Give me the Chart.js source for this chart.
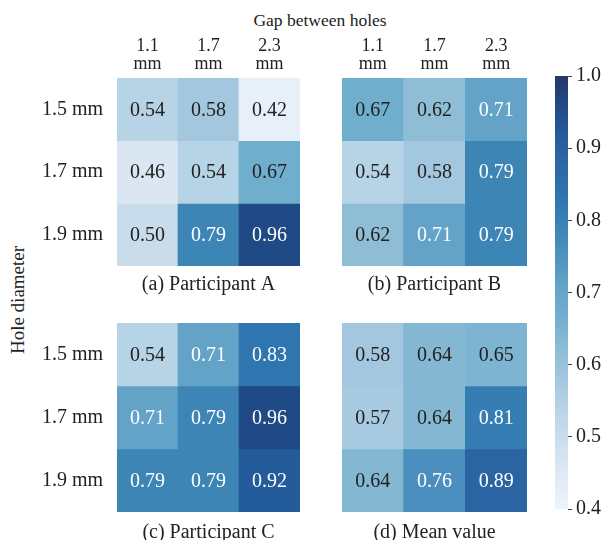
<!DOCTYPE html>
<html>
<head>
<meta charset="utf-8">
<script src="https://cdn.jsdelivr.net/npm/chart.js@4"></script>
<style>
  body { margin: 0; width: 605px; height: 540px; overflow: hidden; background: #fff; position: relative; font-family: "Liberation Serif", serif; }
  canvas { position: absolute; }
  .lbl { position: absolute; color: #222; white-space: nowrap; }
</style>
</head>
<body>
<div class="lbl" style="left:0;width:640px;top:10px;line-height:20px;text-align:center;font-size:17.5px;">Gap between holes</div>
<div class="lbl" style="left:18px;top:300px;font-size:19px;transform:translate(-50%,-50%) rotate(-90deg);">Hole diameter</div>

<canvas id="panelA" width="310" height="267" style="left:0;top:30px"></canvas>
<canvas id="panelB" width="235" height="267" style="left:310px;top:30px"></canvas>
<canvas id="panelC" width="310" height="270" style="left:0;top:275px"></canvas>
<canvas id="panelD" width="235" height="270" style="left:310px;top:275px"></canvas>
<canvas id="colorbar" width="80" height="465" style="left:545px;top:60px"></canvas>

<script>
// gap between holes (columns) and hole diameter (rows)
const colLabels = [["1.1", "mm"], ["1.7", "mm"], ["2.3", "mm"]];
const rowLabels = ["1.5 mm", "1.7 mm", "1.9 mm"];

const participantA = [[0.54, 0.58, 0.42], [0.46, 0.54, 0.67], [0.50, 0.79, 0.96]];
const participantB = [[0.67, 0.62, 0.71], [0.54, 0.58, 0.79], [0.62, 0.71, 0.79]];
const participantC = [[0.54, 0.71, 0.83], [0.71, 0.79, 0.96], [0.79, 0.79, 0.92]];
const meanValue = [[0.58, 0.64, 0.65], [0.57, 0.64, 0.81], [0.64, 0.76, 0.89]];

const captions = ["(a) Participant A", "(b) Participant B", "(c) Participant C", "(d) Mean value"];
const cbarTicks = [0.4, 0.5, 0.6, 0.7, 0.8, 0.9, 1.0];
const vmin = 0.4, vmax = 1.0;

// colour map (light to dark blue)
const stops = [
  [0.40, "#eef4fa"], [0.46, "#dae7f3"], [0.50, "#c9dcec"], [0.54, "#b7d3e6"],
  [0.58, "#a3c7df"], [0.62, "#8fbdd6"], [0.67, "#70aecd"], [0.71, "#62a3c7"],
  [0.76, "#4a8fbd"], [0.79, "#3d85b5"], [0.83, "#2f75b0"], [0.89, "#2b64a2"],
  [0.92, "#235b9b"], [0.96, "#1f4a85"], [1.00, "#283567"]
];

function hexRgb(h) {
  return [1, 3, 5].map(i => parseInt(h.slice(i, i + 2), 16));
}
function cmap(v) {
  for (let i = 1; i < stops.length; i++) {
    if (v <= stops[i][0]) {
      const [v0, c0] = stops[i - 1], [v1, c1] = stops[i];
      const t = (v - v0) / (v1 - v0);
      const a = hexRgb(c0), b = hexRgb(c1);
      const rgb = a.map((x, k) => Math.round(x + (b[k] - x) * t));
      return "rgb(" + rgb.join(",") + ")";
    }
  }
  return stops[stops.length - 1][1];
}

const serif = "'Liberation Serif', 'Times New Roman', serif";
const textColor = "#222";

// writes the value in the middle of each cell
function cellText(values) {
  return {
    id: "cellText",
    afterDatasetsDraw(chart) {
      const ctx = chart.ctx;
      ctx.save();
      ctx.font = "20px " + serif;
      ctx.textAlign = "center";
      ctx.textBaseline = "middle";
      values.forEach((row, r) => {
        chart.getDatasetMeta(r).data.forEach((bar, c) => {
          const v = row[c];
          const p = bar.getCenterPoint();
          ctx.fillStyle = v > 0.7 ? "#fff" : textColor;
          ctx.fillText(v.toFixed(2), p.x, p.y + 1);
        });
      });
      ctx.restore();
    }
  };
}

function makePanel(id, values, caption, showX, showY, padding) {
  new Chart(document.getElementById(id), {
    type: "bar",
    data: {
      labels: colLabels,
      datasets: values.map((row, r) => ({
        data: row.map(() => [r, r + 1]),
        backgroundColor: row.map(cmap),
        borderWidth: 0,
        barPercentage: 1,
        categoryPercentage: 1,
        grouped: false
      }))
    },
    options: {
      responsive: false,
      animation: false,
      layout: { padding: padding },
      plugins: {
        legend: { display: false },
        tooltip: { enabled: false },
        title: {
          display: true,
          position: "bottom",
          fullSize: false,
          text: caption,
          color: textColor,
          font: { family: serif, size: 20, weight: "normal" },
          padding: { top: showX ? 7 : 9, bottom: 0 }
        }
      },
      scales: {
        x: {
          position: "top",
          display: showX,
          grid: { display: false, drawTicks: false },
          border: { display: false },
          ticks: { color: textColor, font: { family: serif, size: 18, lineHeight: 1.0 }, padding: 5, maxRotation: 0 },
          afterFit: s => { s.height = showX ? 48 : 0; }
        },
        y: {
          min: 0,
          max: 3,
          reverse: true,
          display: showY,
          grid: { display: false, drawTicks: false },
          border: { display: false },
          ticks: { color: textColor, font: { family: serif, size: 20 }, padding: 14, callback: v => rowLabels[Math.floor(v)] },
          afterBuildTicks: s => { s.ticks = rowLabels.map((_, i) => ({ value: i + 0.5 })); },
          afterFit: s => { s.width = showY ? 117 : 0; }
        }
      }
    },
    plugins: [cellText(values)]
  });
}

makePanel("panelA", participantA, captions[0], true, true, { left: 0, right: 10, top: 0, bottom: 0 });
makePanel("panelB", participantB, captions[1], true, false, { left: 32, right: 18, top: 0, bottom: 0 });
makePanel("panelC", participantC, captions[2], false, true, { left: 0, right: 10, top: 48, bottom: 0 });
makePanel("panelD", meanValue, captions[3], false, false, { left: 32, right: 18, top: 48, bottom: 0 });

// colour bar
new Chart(document.getElementById("colorbar"), {
  type: "bar",
  data: {
    labels: [""],
    datasets: [{
      data: [[vmin, vmax]],
      backgroundColor: ctx => {
        const ca = ctx.chart.chartArea;
        if (!ca) return stops[0][1];
        const g = ctx.chart.ctx.createLinearGradient(0, ca.bottom, 0, ca.top);
        stops.forEach(([v, c]) => g.addColorStop((v - vmin) / (vmax - vmin), c));
        return g;
      },
      borderWidth: 0,
      barPercentage: 1,
      categoryPercentage: 1
    }]
  },
  options: {
    responsive: false,
    animation: false,
    layout: { padding: { left: 10, top: 13, bottom: 13, right: 0 } },
    plugins: { legend: { display: false }, tooltip: { enabled: false } },
    scales: {
      x: { display: false },
      y: {
        position: "right",
        min: vmin,
        max: vmax,
        grid: { display: true, drawOnChartArea: false, drawTicks: true, tickLength: 4, color: "#444" },
        border: { display: false },
        ticks: { color: textColor, font: { family: serif, size: 20 }, padding: 4, callback: v => v.toFixed(1) },
        afterBuildTicks: s => { s.ticks = cbarTicks.map(v => ({ value: v })); },
        afterFit: s => { s.width = 57; }
      }
    }
  }
});
</script>
</body>
</html>
